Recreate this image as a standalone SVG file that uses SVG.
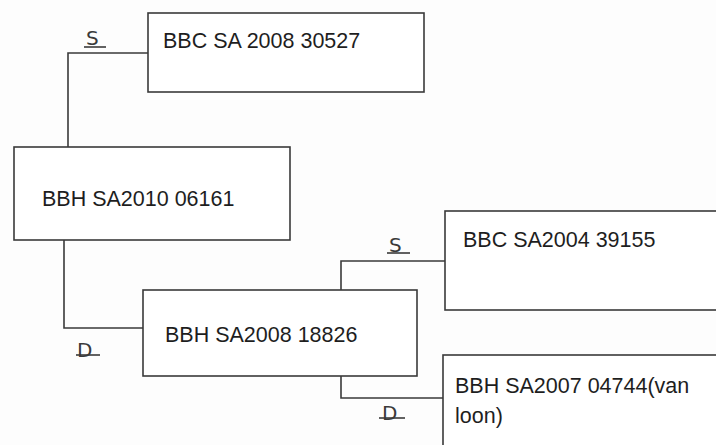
<svg xmlns="http://www.w3.org/2000/svg" width="716" height="445" viewBox="0 0 716 445">
<style>
.box{fill:#fff;stroke:#3a3a3a;stroke-width:1.6}
.ln{fill:none;stroke:#3a3a3a;stroke-width:1.6}
.t{font-family:"Liberation Sans","Open Sans",sans-serif;font-size:21.5px;fill:#1e1e1e}
.lbl{font-family:"DejaVu Sans","Liberation Sans",sans-serif;font-size:20px;fill:#3a3a3a}
</style>
<rect width="716" height="445" fill="#fdfdfd"/>
<g id="connectors">
<polyline class="ln" points="148,53 68,53 68,148"/>
<polyline class="ln" points="64,240 64,328 143,328"/>
<polyline class="ln" points="341,290 341,261 445,261"/>
<polyline class="ln" points="341,376 341,398 444,398"/>
<text class="lbl" x="86" y="45">S</text>
<line class="ln" x1="84" y1="47" x2="106" y2="47" stroke-width="1"/>
<text class="lbl" x="77" y="357">D</text>
<line class="ln" x1="76" y1="355" x2="100" y2="355" stroke-width="1"/>
<text class="lbl" x="389" y="252">S</text>
<line class="ln" x1="387" y1="253" x2="410" y2="253" stroke-width="1"/>
<text class="lbl" x="382" y="420">D</text>
<line class="ln" x1="379" y1="418" x2="405" y2="418" stroke-width="1"/>
</g>
<g id="n1"><rect class="box" x="148" y="13" width="276" height="79"/><text class="t" x="163" y="48">BBC SA 2008 30527</text></g>
<g id="n2"><rect class="box" x="14" y="147" width="276" height="93"/><text class="t" x="42" y="206">BBH SA2010 06161</text></g>
<g id="n3"><rect class="box" x="143" y="290" width="274" height="86"/><text class="t" x="165" y="342">BBH SA2008 18826</text></g>
<g id="n4"><rect class="box" x="445" y="211" width="280" height="99"/><text class="t" x="463" y="247">BBC SA2004 39155</text></g>
<g id="n5"><rect class="box" x="443" y="355" width="280" height="100"/><text class="t" x="455" y="393">BBH SA2007 04744(van</text><text class="t" x="455" y="423">loon)</text></g>
</svg>
